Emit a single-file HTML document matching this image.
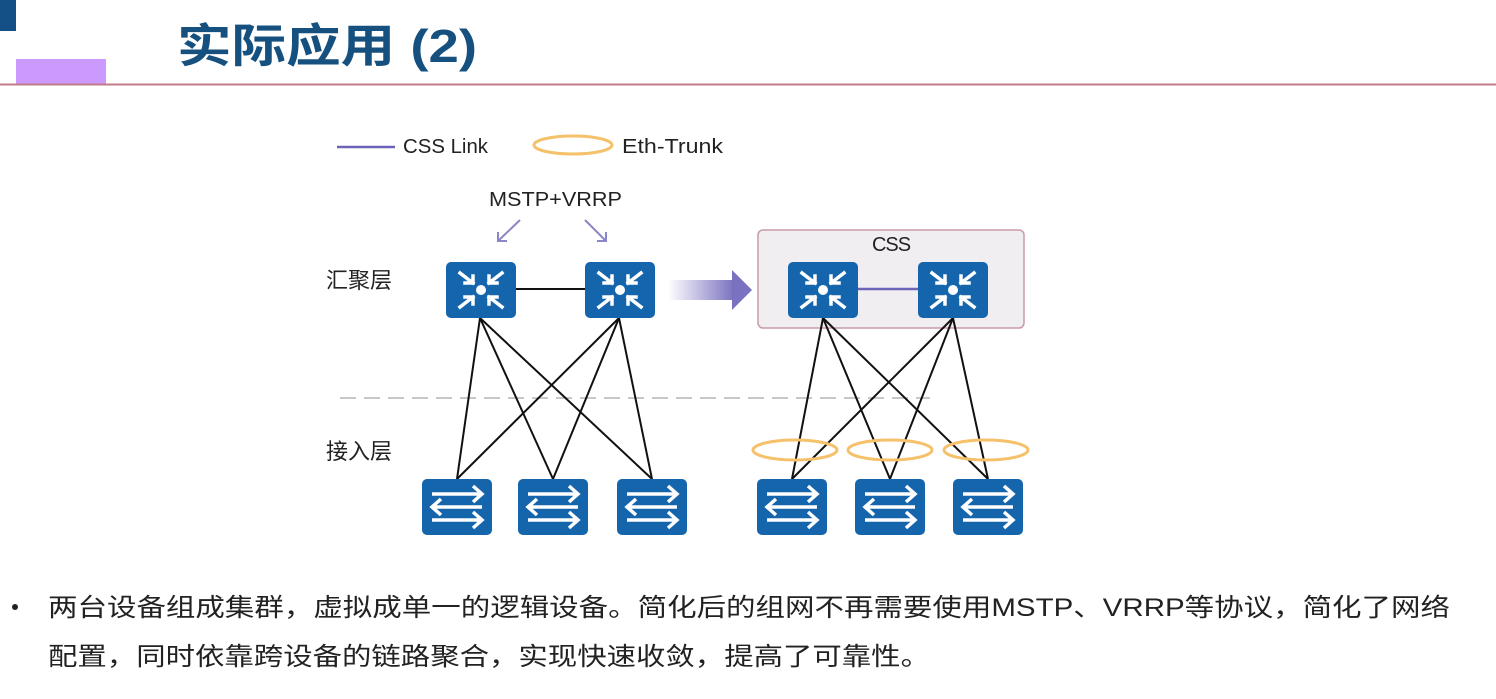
<!DOCTYPE html>
<html><head><meta charset="utf-8"><style>
body{margin:0;width:1496px;height:699px;background:#fff;overflow:hidden;font-family:"Liberation Sans","Noto Sans CJK SC",sans-serif;}
</style></head><body>
<svg width="1496" height="699" viewBox="0 0 1496 699" xmlns="http://www.w3.org/2000/svg" style="position:absolute;left:0;top:0">
<defs>
<g id="core">
<rect x="0" y="0" width="70" height="56" rx="5" fill="#1565ad"/>
<circle cx="35" cy="28" r="5" fill="#fff"/>
<g stroke="#fff" stroke-width="3.5" fill="none" stroke-linecap="square">
<path d="M14 11 L27 21 M19 21 L27 21 L27 14"/>
<path d="M56 11 L43 21 M51 21 L43 21 L43 14"/>
<path d="M14 45 L27 35 M19 35 L27 35 L27 42"/>
<path d="M56 45 L43 35 M51 35 L43 35 L43 42"/>
</g></g>
<g id="acc">
<rect x="0" y="0" width="70" height="56" rx="5" fill="#1565ad"/>
<g stroke="#fff" stroke-width="3.5" fill="none">
<path d="M10 15 L60 15 M51 7 L60 15 L51 23"/>
<path d="M60 28 L10 28 M19 20 L10 28 L19 36"/>
<path d="M10 41 L60 41 M51 33 L60 41 L51 49"/>
</g></g>
<linearGradient id="ag" x1="0" x2="1"><stop offset="0" stop-color="#7a72c0" stop-opacity="0"/><stop offset="1" stop-color="#7a72c0"/></linearGradient>
</defs>
<rect x="0" y="0" width="16" height="31" fill="#144f85"/>
<rect x="16" y="59" width="90" height="25" fill="#cc99ff"/>
<line x1="0" y1="84.5" x2="1496" y2="84.5" stroke="#c07a8a" stroke-width="2"/>
<text x="177" y="62" font-size="46" font-weight="bold" fill="#16507f" textLength="300" lengthAdjust="spacingAndGlyphs">实际应用 (2)</text>

<line x1="337" y1="147" x2="395" y2="147" stroke="#6b64b8" stroke-width="2.5"/>
<text x="403" y="153" font-size="20" fill="#222" textLength="85" lengthAdjust="spacingAndGlyphs">CSS Link</text>
<ellipse cx="573" cy="145" rx="39" ry="9" fill="none" stroke="#f5c16a" stroke-width="3"/>
<text x="622" y="153" font-size="20" fill="#222" textLength="101" lengthAdjust="spacingAndGlyphs">Eth-Trunk</text>

<text x="489" y="206" font-size="20" fill="#222" textLength="133" lengthAdjust="spacingAndGlyphs">MSTP+VRRP</text>
<g stroke="#8a86c8" stroke-width="2" fill="none">
<path d="M520 220 L498 241 M498 232 L498 241 L507 241"/>
<path d="M585 220 L606 241 M606 232 L606 241 L597 241"/>
</g>
<text x="326" y="288" font-size="22" fill="#222">汇聚层</text>
<text x="326" y="459" font-size="22" fill="#222">接入层</text>

<line x1="340" y1="398" x2="930" y2="398" stroke="#c8c8c8" stroke-width="2" stroke-dasharray="16,8"/>

<rect x="758" y="230" width="266" height="98" rx="5" fill="#f0eef0" stroke="#c99aab" stroke-width="1.5"/>
<text x="891" y="251" font-size="20" fill="#222" text-anchor="middle" letter-spacing="-1">CSS</text>

<g stroke="#111" stroke-width="2">
<line x1="516" y1="289" x2="585" y2="289"/>
<line x1="480" y1="318" x2="457" y2="479"/><line x1="480" y1="318" x2="553" y2="479"/><line x1="480" y1="318" x2="652" y2="479"/>
<line x1="619" y1="318" x2="457" y2="479"/><line x1="619" y1="318" x2="553" y2="479"/><line x1="619" y1="318" x2="652" y2="479"/>
<line x1="823" y1="318" x2="792" y2="479"/><line x1="823" y1="318" x2="890" y2="479"/><line x1="823" y1="318" x2="988" y2="479"/>
<line x1="953" y1="318" x2="792" y2="479"/><line x1="953" y1="318" x2="890" y2="479"/><line x1="953" y1="318" x2="988" y2="479"/>
</g>
<line x1="858" y1="289" x2="918" y2="289" stroke="#6b64b8" stroke-width="2.5"/>

<rect x="668" y="280" width="66" height="20" fill="url(#ag)"/>
<polygon points="732,270 752,290 732,310" fill="#7a72c0"/>

<use href="#core" x="446" y="262"/><use href="#core" x="585" y="262"/>
<use href="#core" x="788" y="262"/><use href="#core" x="918" y="262"/>
<use href="#acc" x="422" y="479"/><use href="#acc" x="518" y="479"/><use href="#acc" x="617" y="479"/>
<use href="#acc" x="757" y="479"/><use href="#acc" x="855" y="479"/><use href="#acc" x="953" y="479"/>

<g fill="none" stroke="#f5c16a" stroke-width="3">
<ellipse cx="795" cy="450" rx="42" ry="10"/><ellipse cx="890" cy="450" rx="42" ry="10"/><ellipse cx="986" cy="450" rx="42" ry="10"/>
</g>

<circle cx="15" cy="607" r="3" fill="#222"/>
<text x="48" y="616" font-size="25" fill="#222" textLength="1402" lengthAdjust="spacingAndGlyphs">两台设备组成集群，虚拟成单一的逻辑设备。简化后的组网不再需要使用MSTP、VRRP等协议，简化了网络</text>
<text x="48" y="665" font-size="25" fill="#222" textLength="882" lengthAdjust="spacingAndGlyphs">配置，同时依靠跨设备的链路聚合，实现快速收敛，提高了可靠性。</text>
</svg>
</body></html>
